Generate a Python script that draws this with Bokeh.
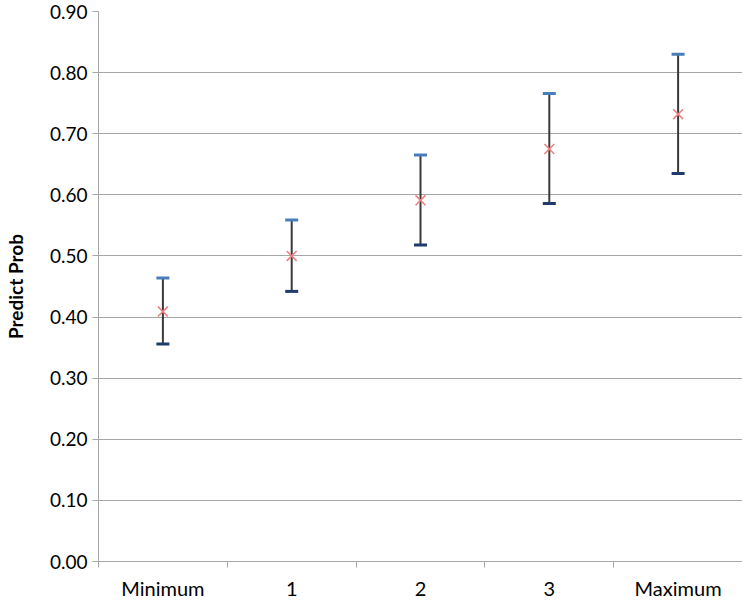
from bokeh.plotting import figure
from bokeh.models import Whisker, TeeHead, ColumnDataSource, FixedTicker, Range1d
from bokeh.embed import file_html
from bokeh.resources import INLINE

categories = ["Minimum", "1", "2", "3", "Maximum"]
means = [0.409, 0.500, 0.591, 0.675, 0.732]
lowers = [0.356, 0.442, 0.518, 0.586, 0.635]
uppers = [0.464, 0.559, 0.665, 0.766, 0.830]
y_ticks = [0.0, 0.1, 0.2, 0.3, 0.4, 0.5, 0.6, 0.7, 0.8, 0.9]

FONT = "Lato"
xpos = [i + 0.5 for i in range(len(categories))]
src = ColumnDataSource(dict(x=xpos, mean=means, lower=lowers, upper=uppers))

p = figure(width=742, height=602, output_backend="svg", toolbar_location=None,
           x_range=Range1d(0, len(categories)), y_range=Range1d(0, 0.9),
           min_border_left=98, min_border_right=0, min_border_top=11, min_border_bottom=36)
p.outline_line_color = None
p.background_fill_color = "white"
p.border_fill_color = "white"

# grid
p.xgrid.grid_line_color = None
p.ygrid.grid_line_color = "#a6a6a6"
p.ygrid.grid_line_width = 1.2

# y axis
p.yaxis.ticker = FixedTicker(ticks=y_ticks)
p.yaxis.major_label_overrides = {t: f"{t:.2f}" for t in y_ticks}
p.yaxis.axis_line_color = "#a6a6a6"
p.yaxis.major_tick_line_color = "#a6a6a6"
p.yaxis.major_tick_out = 6
p.yaxis.major_tick_in = 0
p.yaxis.minor_tick_line_color = None
p.yaxis.major_label_text_font = FONT
p.yaxis.major_label_text_font_size = "19px"
p.yaxis.major_label_text_color = "black"
p.yaxis.major_label_standoff = 5
p.yaxis.axis_label = "Predict Prob"
p.yaxis.axis_label_text_font = FONT
p.yaxis.axis_label_text_font_style = "bold"
p.yaxis.axis_label_text_font_size = "19px"
p.yaxis.axis_label_text_color = "black"
p.yaxis.axis_label_standoff = 20

# x axis: labels at centers, separator ticks between categories
p.xaxis.ticker = FixedTicker(ticks=xpos, minor_ticks=list(range(len(categories) + 1)))
p.xaxis.major_label_overrides = {x: c for x, c in zip(xpos, categories)}
p.xaxis.axis_line_color = "#a6a6a6"
p.xaxis.major_tick_line_color = None
p.xaxis.minor_tick_line_color = "#a6a6a6"
p.xaxis.minor_tick_out = 6
p.xaxis.minor_tick_in = 0
p.xaxis.major_label_text_font = FONT
p.xaxis.major_label_text_font_size = "20px"
p.xaxis.major_label_text_color = "black"
p.xaxis.major_label_standoff = 8

# error bars
w = Whisker(source=src, base="x", upper="upper", lower="lower",
            line_color="#3a3a3a", line_width=2,
            upper_head=TeeHead(size=13, line_color="#4a7ebb", line_width=3),
            lower_head=TeeHead(size=13, line_color="#1f3b6b", line_width=3))
p.add_layout(w)

p.scatter("x", "mean", source=src, marker="x", size=14, line_color="#f08080", line_width=1.6)

open("out.html", "w").write(file_html(p, INLINE))
